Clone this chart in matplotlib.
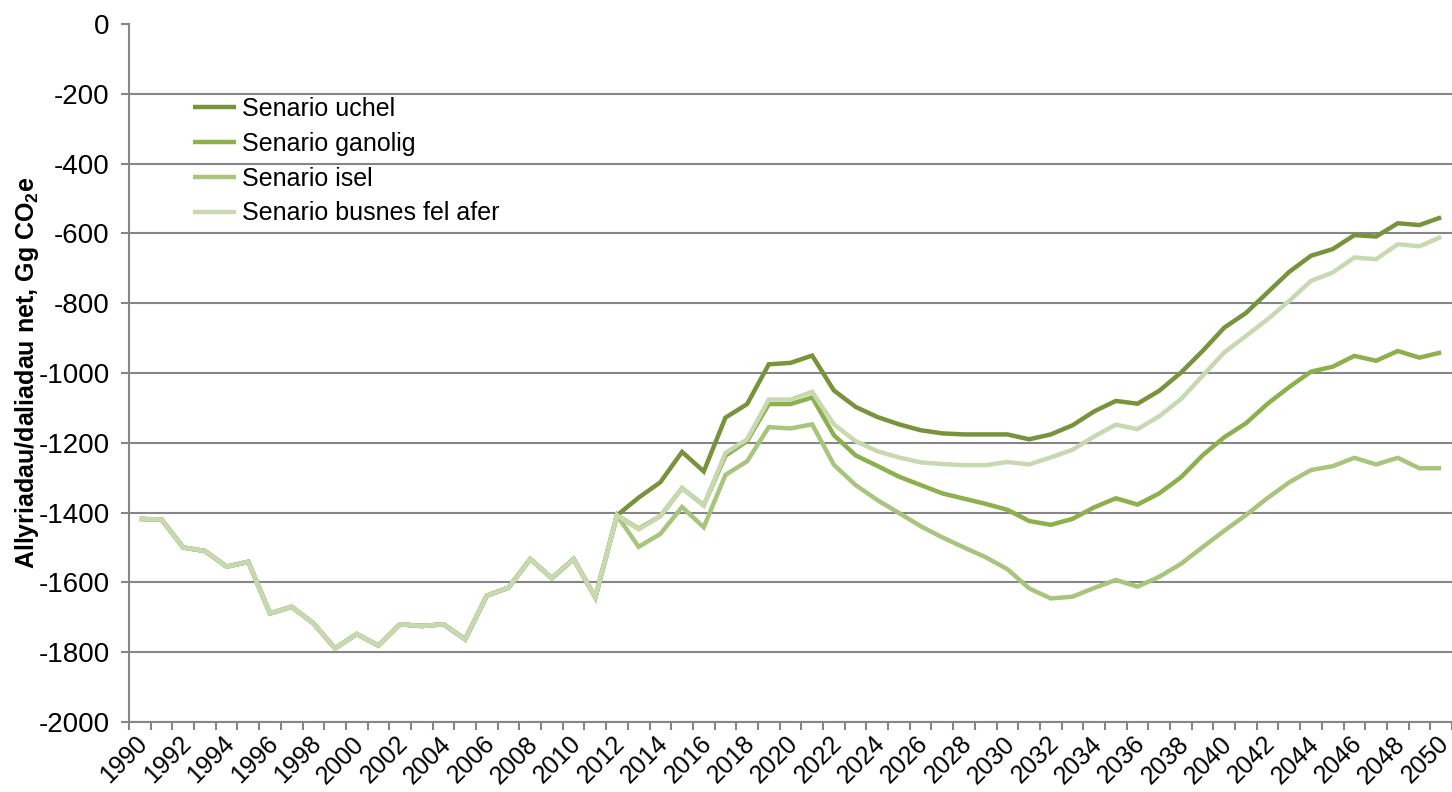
import numpy as np
import matplotlib
matplotlib.use('Agg')
import matplotlib.pyplot as plt
import matplotlib.transforms as mtransforms

plt.rcParams.update({
    'font.family': ['Liberation Sans', 'DejaVu Sans'],
    'mathtext.fontset': 'custom',
    'mathtext.rm': 'Liberation Sans',
    'mathtext.bf': 'Liberation Sans:bold',
    'axes.unicode_minus': False,
})

years = list(range(1990, 2051))

# shared history 1990-2012
history = [-1418, -1420, -1500, -1510, -1555, -1541, -1689, -1670, -1717, -1789,
           -1748, -1781, -1720, -1725, -1720, -1763, -1638, -1615, -1533, -1588,
           -1533, -1643, -1408]

# scenarios 2013-2050
uchel = [-1357, -1313, -1226, -1282, -1128, -1089, -975, -971, -950, -1050,
         -1097, -1126, -1147, -1164, -1173, -1176, -1176, -1176, -1190, -1176,
         -1150, -1110, -1080, -1088, -1051, -999, -937, -870, -828, -769,
         -710, -664, -645, -605, -609, -571, -576, -554]
ganolig = [-1446, -1410, -1330, -1379, -1237, -1195, -1089, -1089, -1070, -1178,
           -1236, -1266, -1297, -1321, -1345, -1360, -1375, -1392, -1424, -1435,
           -1418, -1385, -1359, -1377, -1345, -1299, -1236, -1184, -1144, -1088,
           -1040, -996, -982, -951, -965, -937, -956, -941]
isel = [-1498, -1461, -1384, -1442, -1292, -1253, -1155, -1159, -1147, -1263,
        -1321, -1364, -1401, -1439, -1471, -1500, -1528, -1562, -1617, -1646,
        -1641, -1616, -1593, -1612, -1584, -1547, -1499, -1452, -1407, -1358,
        -1313, -1278, -1267, -1243, -1262, -1243, -1273, -1273]
busnes = [-1448, -1410, -1330, -1380, -1229, -1190, -1076, -1076, -1054, -1147,
          -1195, -1224, -1242, -1256, -1261, -1264, -1264, -1255, -1262, -1242,
          -1220, -1182, -1148, -1161, -1124, -1075, -1008, -941, -894, -846,
          -793, -736, -712, -669, -674, -631, -637, -610]

labels = ['Senario uchel', 'Senario ganolig', 'Senario isel', 'Senario busnes fel afer']
colors = ['#77933C', '#8CB04C', '#A8C57C', '#C8D9B2']
series = [uchel, ganolig, isel, busnes]

fig = plt.figure(figsize=(14.52, 7.92), dpi=100)
ax = fig.add_axes([129 / 1452, 70 / 792, (1452 - 129) / 1452, 698 / 792])

for lab, col, s in zip(labels, colors, series):
    ax.plot(years, history + s, color=col, lw=3.2, label=lab,
            solid_joinstyle='miter', solid_capstyle='butt')

# right end of the plot area is clipped by the image edge in the source
ax.set_xlim(1989.5, 2050.27)
ax.set_ylim(-2000, 0)
ax.set_yticks(np.arange(-2000, 1, 200))
ax.yaxis.grid(True, color='#868686', lw=1.5)
ax.set_axisbelow(True)
ax.get_ygridlines()[-1].set_visible(False)

for sp in ['top', 'right']:
    ax.spines[sp].set_visible(False)
for sp in ['left', 'bottom']:
    ax.spines[sp].set_color('#868686')
    ax.spines[sp].set_linewidth(1.5)

ax.set_xticks(years[::2])
ax.set_xticklabels([str(y) for y in years[::2]], rotation=45, ha='right',
                   va='center', rotation_mode='anchor', fontsize=18)
ax.set_xticks(np.arange(1989.5, 2050.6, 1), minor=True)
ax.tick_params(axis='x', which='major', length=0, pad=13)
ax.tick_params(axis='x', which='minor', length=6, width=1.5, color='#868686',
               direction='out')
ax.tick_params(axis='y', length=6, width=1.5, color='#868686', labelsize=20,
               pad=8)

# nudge rotated year labels a little right
shift = mtransforms.ScaledTranslation(0.04, 0, fig.dpi_scale_trans)
for t in ax.get_xticklabels():
    t.set_transform(t.get_transform() + shift)

ax.set_ylabel(r'Allyriadau/daliadau net, Gg CO$_{\mathbf{2}}$e', fontsize=18,
              fontweight='bold', labelpad=6)
ax.yaxis.set_label_coords(-88 / 1323, 0.5)

ax.legend(loc='upper left', bbox_to_anchor=(193 / 1452, 1 - 97 / 792),
          bbox_transform=fig.transFigure, frameon=False, fontsize=18,
          handlelength=1.7, handletextpad=0.25, labelspacing=0.43,
          borderaxespad=0, borderpad=0)

fig.savefig('out.png', dpi=100)
